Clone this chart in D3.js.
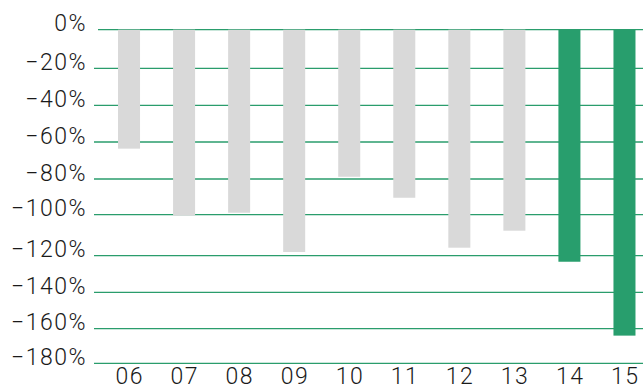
<!DOCTYPE html>
<html><head><meta charset="utf-8">
<script src="https://cdn.jsdelivr.net/npm/d3@7"></script>
<style>
html,body{margin:0;padding:0;background:#fff;}
svg{display:block;}
text{font-family:Roboto, "Liberation Sans", sans-serif;font-weight:300;fill:#1a1a1a;letter-spacing:1.5px;}
</style></head>
<body>
<script>
const categories = ["06","07","08","09","10","11","12","13","14","15"];
const values = [-63.6, -100.5, -98.9, -118.2, -78.8, -90.5, -116.1, -107.8, -123.3, -164];
const highlight = [false,false,false,false,false,false,false,false,true,true];
const yTicks = [0,-20,-40,-60,-80,-100,-120,-140,-160,-180];

const W = 643, H = 385;
const svg = d3.select("body").append("svg").attr("width", W).attr("height", H);

// piecewise-linear scale following the reference's gridline placement
const y = d3.scaleLinear()
  .domain(yTicks)
  .range([29.7, 68.3, 105.3, 142, 179, 214.7, 255.7, 292.3, 328.7, 363.3]);
const x = d3.scaleBand().domain(categories).range([101.5, 652]).paddingInner(0.6).paddingOuter(0.3);

const fmt = v => (v < 0 ? "\u2212" + Math.abs(v) : v) + "%";

// gridlines
svg.append("g").selectAll("line").data(yTicks).join("line")
  .attr("x1", d => d === 0 ? 98 : 94).attr("x2", W)
  .attr("y1", d => y(d)).attr("y2", d => y(d))
  .attr("stroke", "#2a9d6c").attr("stroke-width", 1.3);

// bars
svg.append("g").selectAll("rect").data(values).join("rect")
  .attr("x", (d,i) => x(categories[i]))
  .attr("width", x.bandwidth())
  .attr("y", y(0))
  .attr("height", d => y(d) - y(0))
  .attr("fill", (d,i) => highlight[i] ? "#289e6d" : "#d9d9d9");

// y labels
svg.append("g").selectAll("text").data(yTicks).join("text")
  .attr("x", 87).attr("y", d => y(d) + 1.5)
  .attr("text-anchor", "end")
  .style("font-size", "23px")
  .text(fmt);

// x labels
svg.append("g").selectAll("text").data(categories).join("text")
  .attr("x", d => x(d) + x.bandwidth()/2 + 0.75).attr("y", 384)
  .attr("text-anchor", "middle")
  .style("font-size", "23px")
  .text(d => d);
</script>
</body></html>
